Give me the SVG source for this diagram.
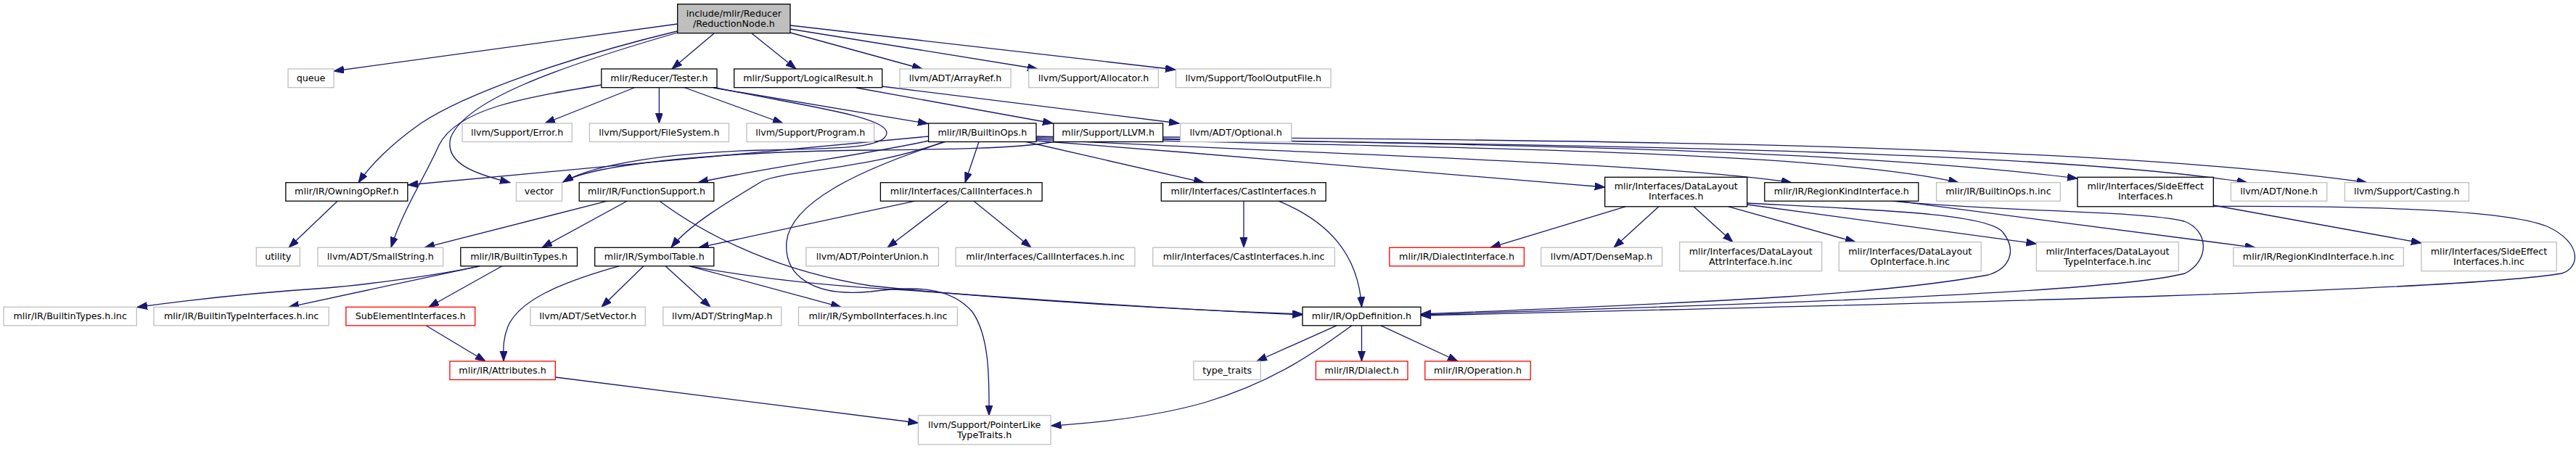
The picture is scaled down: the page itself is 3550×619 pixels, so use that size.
<svg xmlns="http://www.w3.org/2000/svg" width="3550" height="619" viewBox="0 0 3550 619">
<style>
rect{stroke-width:1.3}
.k{fill:#fff;stroke:#000}
.g{fill:#fff;stroke:#bfbfbf}
.r{fill:#fff;stroke:#ff0000}
.m{fill:#bfbfbf;stroke:#000}
text{font-family:"DejaVu Sans","Liberation Sans",sans-serif;font-size:12.7px;text-anchor:middle;fill:#000}
#edges path{fill:none;stroke:#191970;stroke-width:1.3;marker-end:url(#a)}
</style>
<defs>
<marker id="a" markerUnits="userSpaceOnUse" markerWidth="16" markerHeight="12" refX="14" refY="5" orient="auto"><path d="M0,0 L14,5 L0,10 z" fill="#191970" stroke="#191970" stroke-width="1"/></marker>
</defs>
<rect width="3550" height="619" fill="#fff"/>
<g id="edges">
<path d="M933.7,33 L460,98"/>
<path d="M933,43 C780,80 640,130 580,170 C540,198 510,228 494,251.7"/>
<path d="M933.7,45 C760,95 640,140 621,190 C612,225 655,240 703,251.7"/>
<path d="M984,46 L926,95"/>
<path d="M1036,46 L1097,95"/>
<path d="M1089,45 L1271,95"/>
<path d="M1089,40 L1430,95"/>
<path d="M1089,35 L1620,96"/>
<path d="M874,121 L751,170"/>
<path d="M908.4,121 L908.4,170"/>
<path d="M944,121 L1079,170"/>
<path d="M983,121 L1279,170.5"/>
<path d="M987,121 C1100,145 1222,160 1222,183 C1222,205 1150,205 1050,207 C930,210 820,225 776,251"/>
<path d="M829,117 C720,135 630,150 605,200 C585,245 555,290 539,341"/>
<path d="M1180,121 L1451,170"/>
<path d="M1215,119 L1625,170"/>
<path d="M1280,188 L562,255"/>
<path d="M1280,194 C1200,212 1060,230 962,251.7"/>
<path d="M1300,195.5 C1200,233 1080,235 1050,250 C1000,280 950,310 925,341"/>
<path d="M1349,195.5 L1330,251.7"/>
<path d="M1414,195.5 L1659,251.7"/>
<path d="M1428,194 C1700,215 2000,240 2211.7,258"/>
<path d="M1428,192 C1800,212 2300,225 2469,251.7"/>
<path d="M1428,190 C1900,203 2500,205 2699,251.7"/>
<path d="M1428,188 C1900,198 2500,200 2863,246"/>
<path d="M1602.6,192 C2100,200 2800,205 3097,251.7"/>
<path d="M1602.6,189 C2200,193 2900,200 3262,251.7"/>
<path d="M1452,195.5 C1400,205 1300,206 1200,207 C1000,209 820,225 776,251"/>
<path d="M1303,195.5 C1180,235 1090,280 1084,333 C1080,380 1120,410 1200,402 C1260,394 1310,395 1340,430 C1365,465 1363,530 1363,572.7"/>
<path d="M837,277.2 L585,341.3"/>
<path d="M864,277.2 L747,341.3"/>
<path d="M909,277.2 C980,330 1080,375 1200,394 C1400,415 1650,428 1795,433"/>
<path d="M950,366.8 C1050,385 1150,395 1250,400 C1450,415 1650,428 1795,434"/>
<path d="M853,366.8 C770,390 715,415 700,450 C692,470 694,485 694,498"/>
<path d="M887,366.8 L829,423.3"/>
<path d="M917,366.8 L979,423.3"/>
<path d="M950,366.8 L1159,423.3"/>
<path d="M1261,277.2 L963,341.3"/>
<path d="M1307,277.2 L1223,341.3"/>
<path d="M1342,277.2 L1421,341.3"/>
<path d="M1714,277.2 L1714,341.3"/>
<path d="M1762,277.2 C1830,305 1872,350 1876.5,423.3"/>
<path d="M661,366.8 C600,380 500,393 450,397 C330,405 250,415 189,423.5"/>
<path d="M661,366.8 L398,423.3"/>
<path d="M692,366.8 L591,423.3"/>
<path d="M587,448.8 L669,498"/>
<path d="M765.3,520 L1265.4,583"/>
<path d="M1842,448.8 L1732,498"/>
<path d="M1863,448.8 C1820,480 1760,525 1660,555 C1590,575 1510,583 1448.5,587"/>
<path d="M1876.5,448.8 L1876.5,498"/>
<path d="M1903,448.8 L2009,498"/>
<path d="M2240,284.8 L2054,341.3"/>
<path d="M2286,284.8 L2224,341.3"/>
<path d="M2334,284.8 L2388,333.7"/>
<path d="M2382,284.8 L2557,333.7"/>
<path d="M2407.7,282 L2806.4,336"/>
<path d="M2407.7,280 C2600,290 2740,295 2760,320 C2780,345 2770,370 2740,379 C2600,405 2400,415 1958,433"/>
<path d="M2614,277.2 L3108,341.3"/>
<path d="M2607,277.2 C2750,292 2950,290 3010,305 C3045,318 3045,360 3011,377 C2900,405 2400,420 1958,434"/>
<path d="M3050.3,283 L3336.9,335"/>
<path d="M3050.3,284.5 C3250,284 3450,288 3510,312 C3560,335 3555,370 3530,377 C3400,400 2700,418 1958,435"/>
<path d="M465,277.2 L398,341.3"/>
</g>
<g id="main"><rect class="m" x="933.7" y="5.7" width="155.3" height="40"/><text x="1011.35" y="22.5">include/mlir/Reducer</text><text x="1011.35" y="36.5">/ReductionNode.h</text></g>
<g id="queue"><rect class="g" x="397" y="95" width="63" height="25.7"/><text x="428.5" y="111.5">queue</text></g>
<g id="tester"><rect class="k" x="828.8" y="95" width="159.2" height="25.7"/><text x="908.4" y="111.5">mlir/Reducer/Tester.h</text></g>
<g id="logical"><rect class="k" x="1011.7" y="95" width="204" height="25.7"/><text x="1113.7" y="111.5">mlir/Support/LogicalResult.h</text></g>
<g id="arrayref"><rect class="g" x="1240" y="95" width="153" height="25.7"/><text x="1316.5" y="111.5">llvm/ADT/ArrayRef.h</text></g>
<g id="allocator"><rect class="g" x="1417.7" y="95" width="178.7" height="25.7"/><text x="1507.05" y="111.5">llvm/Support/Allocator.h</text></g>
<g id="tooloutput"><rect class="g" x="1620.5" y="95" width="213.5" height="25.7"/><text x="1727.25" y="111.5">llvm/Support/ToolOutputFile.h</text></g>
<g id="error"><rect class="g" x="637" y="170" width="151.3" height="25.5"/><text x="712.65" y="186.5">llvm/Support/Error.h</text></g>
<g id="filesystem"><rect class="g" x="812.4" y="170" width="192.1" height="25.5"/><text x="908.45" y="186.5">llvm/Support/FileSystem.h</text></g>
<g id="program"><rect class="g" x="1029" y="170" width="175.6" height="25.5"/><text x="1116.8" y="186.5">llvm/Support/Program.h</text></g>
<g id="builtinops"><rect class="k" x="1279.6" y="170" width="148.4" height="25.5"/><text x="1353.8" y="186.5">mlir/IR/BuiltinOps.h</text></g>
<g id="llvmh"><rect class="k" x="1451.8" y="170" width="150.8" height="25.5"/><text x="1527.2" y="186.5">mlir/Support/LLVM.h</text></g>
<g id="optional"><rect class="g" x="1626.7" y="170" width="153" height="25.5"/><text x="1703.2" y="186.5">llvm/ADT/Optional.h</text></g>
<g id="owning"><rect class="k" x="393.8" y="251.7" width="168" height="25.5"/><text x="477.8" y="268.2">mlir/IR/OwningOpRef.h</text></g>
<g id="vector"><rect class="g" x="711.4" y="251.7" width="63.1" height="25.5"/><text x="742.95" y="268.2">vector</text></g>
<g id="funcsupport"><rect class="k" x="798.2" y="251.7" width="185.6" height="25.5"/><text x="891" y="268.2">mlir/IR/FunctionSupport.h</text></g>
<g id="callif"><rect class="k" x="1213.4" y="251.7" width="222.7" height="25.5"/><text x="1324.75" y="268.2">mlir/Interfaces/CallInterfaces.h</text></g>
<g id="castif"><rect class="k" x="1600.3" y="251.7" width="226.9" height="25.5"/><text x="1713.75" y="268.2">mlir/Interfaces/CastInterfaces.h</text></g>
<g id="datalayout"><rect class="k" x="2211.7" y="244.3" width="196" height="40.5"/><text x="2309.7" y="261.1">mlir/Interfaces/DataLayout</text><text x="2309.7" y="275.1">Interfaces.h</text></g>
<g id="regionkind"><rect class="k" x="2431.8" y="251.7" width="212" height="25.5"/><text x="2537.8" y="268.2">mlir/IR/RegionKindInterface.h</text></g>
<g id="builtinopsinc"><rect class="g" x="2668.6" y="251.7" width="170.7" height="25.5"/><text x="2753.95" y="268.2">mlir/IR/BuiltinOps.h.inc</text></g>
<g id="sideeffect"><rect class="k" x="2863" y="244.3" width="187.3" height="40.5"/><text x="2956.65" y="261.1">mlir/Interfaces/SideEffect</text><text x="2956.65" y="275.1">Interfaces.h</text></g>
<g id="none"><rect class="g" x="3074.4" y="251.7" width="132.4" height="25.5"/><text x="3140.6" y="268.2">llvm/ADT/None.h</text></g>
<g id="casting"><rect class="g" x="3231.3" y="251.7" width="171" height="25.5"/><text x="3316.8" y="268.2">llvm/Support/Casting.h</text></g>
<g id="utility"><rect class="g" x="353.2" y="341.3" width="60.1" height="25.5"/><text x="383.25" y="357.8">utility</text></g>
<g id="smallstring"><rect class="g" x="437.8" y="341.3" width="172.9" height="25.5"/><text x="524.25" y="357.8">llvm/ADT/SmallString.h</text></g>
<g id="builtintypes"><rect class="k" x="634.8" y="341.3" width="160.7" height="25.5"/><text x="715.15" y="357.8">mlir/IR/BuiltinTypes.h</text></g>
<g id="symboltable"><rect class="k" x="819.7" y="341.3" width="164.1" height="25.5"/><text x="901.75" y="357.8">mlir/IR/SymbolTable.h</text></g>
<g id="pointerunion"><rect class="g" x="1110.9" y="341.3" width="182.5" height="25.5"/><text x="1202.15" y="357.8">llvm/ADT/PointerUnion.h</text></g>
<g id="callifinc"><rect class="g" x="1317.1" y="341.3" width="246.8" height="25.5"/><text x="1440.5" y="357.8">mlir/Interfaces/CallInterfaces.h.inc</text></g>
<g id="castifinc"><rect class="g" x="1588.8" y="341.3" width="250.6" height="25.5"/><text x="1714.1" y="357.8">mlir/Interfaces/CastInterfaces.h.inc</text></g>
<g id="dialectif"><rect class="r" x="1914.8" y="341.3" width="185.6" height="25.5"/><text x="2007.6" y="357.8">mlir/IR/DialectInterface.h</text></g>
<g id="densemap"><rect class="g" x="2123.7" y="341.3" width="166.9" height="25.5"/><text x="2207.15" y="357.8">llvm/ADT/DenseMap.h</text></g>
<g id="dlattr"><rect class="g" x="2314.7" y="333.7" width="195.9" height="40"/><text x="2412.65" y="350.5">mlir/Interfaces/DataLayout</text><text x="2412.65" y="364.5">AttrInterface.h.inc</text></g>
<g id="dlop"><rect class="g" x="2534.3" y="333.7" width="195.9" height="40"/><text x="2632.25" y="350.5">mlir/Interfaces/DataLayout</text><text x="2632.25" y="364.5">OpInterface.h.inc</text></g>
<g id="dltype"><rect class="g" x="2806.4" y="333.7" width="196" height="40"/><text x="2904.4" y="350.5">mlir/Interfaces/DataLayout</text><text x="2904.4" y="364.5">TypeInterface.h.inc</text></g>
<g id="regionkindinc"><rect class="g" x="3077.8" y="341.3" width="234.6" height="25.5"/><text x="3195.1" y="357.8">mlir/IR/RegionKindInterface.h.inc</text></g>
<g id="sideeffectinc"><rect class="g" x="3336.9" y="333.7" width="186.3" height="40"/><text x="3430.05" y="350.5">mlir/Interfaces/SideEffect</text><text x="3430.05" y="364.5">Interfaces.h.inc</text></g>
<g id="builtintypesinc"><rect class="g" x="5" y="423.3" width="183.3" height="25.5"/><text x="96.65" y="439.8">mlir/IR/BuiltinTypes.h.inc</text></g>
<g id="builtintypeifinc"><rect class="g" x="212" y="423.3" width="241.1" height="25.5"/><text x="332.55" y="439.8">mlir/IR/BuiltinTypeInterfaces.h.inc</text></g>
<g id="subelement"><rect class="r" x="476.8" y="423.3" width="177.9" height="25.5"/><text x="565.75" y="439.8">SubElementInterfaces.h</text></g>
<g id="setvector"><rect class="g" x="730.9" y="423.3" width="158.4" height="25.5"/><text x="810.1" y="439.8">llvm/ADT/SetVector.h</text></g>
<g id="stringmap"><rect class="g" x="913.8" y="423.3" width="163" height="25.5"/><text x="995.3" y="439.8">llvm/ADT/StringMap.h</text></g>
<g id="symbolifinc"><rect class="g" x="1100.5" y="423.3" width="218.9" height="25.5"/><text x="1209.95" y="439.8">mlir/IR/SymbolInterfaces.h.inc</text></g>
<g id="opdef"><rect class="k" x="1795" y="423.3" width="163" height="25.5"/><text x="1876.5" y="439.8">mlir/IR/OpDefinition.h</text></g>
<g id="attributes"><rect class="r" x="619.9" y="498" width="145.4" height="25.5"/><text x="692.6" y="514.5">mlir/IR/Attributes.h</text></g>
<g id="typetraits"><rect class="g" x="1645" y="498" width="92.3" height="25.5"/><text x="1691.15" y="514.5">type_traits</text></g>
<g id="dialect"><rect class="r" x="1813.4" y="498" width="126.6" height="25.5"/><text x="1876.7" y="514.5">mlir/IR/Dialect.h</text></g>
<g id="operation"><rect class="r" x="1963.8" y="498" width="145.4" height="25.5"/><text x="2036.5" y="514.5">mlir/IR/Operation.h</text></g>
<g id="pointerlike"><rect class="g" x="1265.4" y="572.7" width="182.6" height="40"/><text x="1356.7" y="589.5">llvm/Support/PointerLike</text><text x="1356.7" y="603.5">TypeTraits.h</text></g>
</svg>
